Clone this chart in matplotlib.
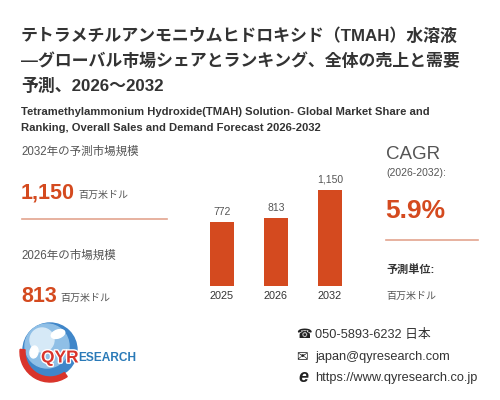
import matplotlib
matplotlib.use("Agg")
import matplotlib.pyplot as plt
import matplotlib.patheffects as pe
from matplotlib.patches import Circle, Wedge, Ellipse

plt.rcParams["font.family"] = ["Liberation Sans", "Noto Sans CJK JP", "DejaVu Sans"]

years = ["2025", "2026", "2032"]
sales = [772, 813, 1150]
bar_labels = ["772", "813", "1,150"]
size_2032 = "1,150"
size_2026 = "813"
cagr = "5.9%"
unit = "百万米ドル"

RED = "#d44a1f"
DARK = "#333333"
GREY = "#555555"
LINE = "#e3a48f"

fig = plt.figure(figsize=(5, 4), dpi=100)
W, H = 500, 400
def T(x, y, s, **kw):
    fig.text(x / W, 1 - y / H, s, **kw)

# title
title = ["テトラメチルアンモニウムヒドロキシド（TMAH）水溶液",
         "—グローバル市場シェアとランキング、全体の売上と需要",
         "予測、2026～2032"]
for i, ln in enumerate(title):
    T(21, 36 + i * 25, ln, fontsize=12.2, fontweight="bold", color=DARK, va="center")
T(21, 112, "Tetramethylammonium Hydroxide(TMAH) Solution- Global Market Share and",
  fontsize=8.15, fontweight="bold", color=DARK, va="center")
T(21, 128, "Ranking, Overall Sales and Demand Forecast 2026-2032",
  fontsize=8.15, fontweight="bold", color=DARK, va="center")

# left panel
T(21, 152, "2032年の予測市場規模", fontsize=8.3, color=GREY, va="center")
T(21, 193, size_2032, fontsize=15.5, fontweight="bold", color=RED, va="center")
T(78, 195, unit, fontsize=7.2, color=GREY, va="center")
fig.add_artist(plt.Line2D([22 / W, 167 / W], [1 - 219 / H] * 2, color=LINE, lw=1.2))
T(21, 256, "2026年の市場規模", fontsize=8.3, color=GREY, va="center")
T(21, 296, size_2026, fontsize=15.5, fontweight="bold", color=RED, va="center")
T(60, 298, unit, fontsize=7.2, color=GREY, va="center")

# bars
ax = fig.add_axes([195 / W, 1 - 286 / H, 162 / W, 120 / H])
x = range(len(years))
ax.bar(x, sales, width=0.45, color=RED)
for xi, v, lb in zip(x, sales, bar_labels):
    ax.text(xi, v + 60, lb, ha="center", va="bottom", fontsize=7.5, color=GREY)
ax.set_xlim(-0.5, 2.5)
ax.set_ylim(0, 1437.5)
ax.axis("off")
for xi, yr in zip(x, years):
    T(222 + xi * 54, 296, yr, fontsize=7.8, color=DARK, ha="center", va="center")

# right panel
T(386, 155, "CAGR", fontsize=13.5, color=GREY, va="center")
T(386, 173, "(2026-2032):", fontsize=7.5, color=GREY, va="center")
T(385, 211, cagr, fontsize=19, fontweight="bold", color=RED, va="center")
fig.add_artist(plt.Line2D([386 / W, 478 / W], [1 - 240 / H] * 2, color=LINE, lw=1.2))
T(386, 270, "予測単位:", fontsize=8, fontweight="bold", color=DARK, va="center")
T(386, 296, unit, fontsize=7.2, color=GREY, va="center")

# logo
lax = fig.add_axes([0, 0, 1, 1], facecolor="none")
lax.set_xlim(0, W); lax.set_ylim(H, 0); lax.axis("off")
lax.add_patch(Circle((50, 350), 27, color="#3f86c9", zorder=1))
lax.add_patch(Circle((47, 346), 22, color="#8fbfe6", zorder=2))
lax.add_patch(Circle((42, 340), 12, color="#d6e9f7", zorder=2))
lax.add_patch(Ellipse((58, 334), 14, 8, angle=-20, color="white", zorder=2.5))
lax.add_patch(Ellipse((34, 352), 8, 12, angle=10, color="white", zorder=2.5))
lax.add_patch(Wedge((50, 352), 30, 55, 185, width=5, color="#d9342b", zorder=3))
lax.text(41, 358, "QYR", fontsize=12.5, fontweight="bold", color="#d9342b", va="center", zorder=4,
         path_effects=[pe.withStroke(linewidth=2, foreground="white")])
lax.text(78, 358, "ESEARCH", fontsize=8.6, fontweight="bold", color="#2a7ab8", va="center", zorder=4)

# contacts
T(296, 335, "\u260e", fontsize=9, color="#222222", va="center", family="DejaVu Sans")
T(315, 335, "050-5893-6232 日本", fontsize=9.2, color=DARK, va="center")
T(296, 357, "\u2709", fontsize=10, color="#222222", va="center", family="DejaVu Sans")
T(315, 357, "japan@qyresearch.com", fontsize=9.2, color=DARK, va="center")
T(298, 378, "e", fontsize=13, fontweight="bold", style="italic", color="#222222", va="center")
T(315, 378, "https://www.qyresearch.co.jp", fontsize=9.2, color=DARK, va="center")

fig.savefig("out.png", dpi=100, facecolor="white")
